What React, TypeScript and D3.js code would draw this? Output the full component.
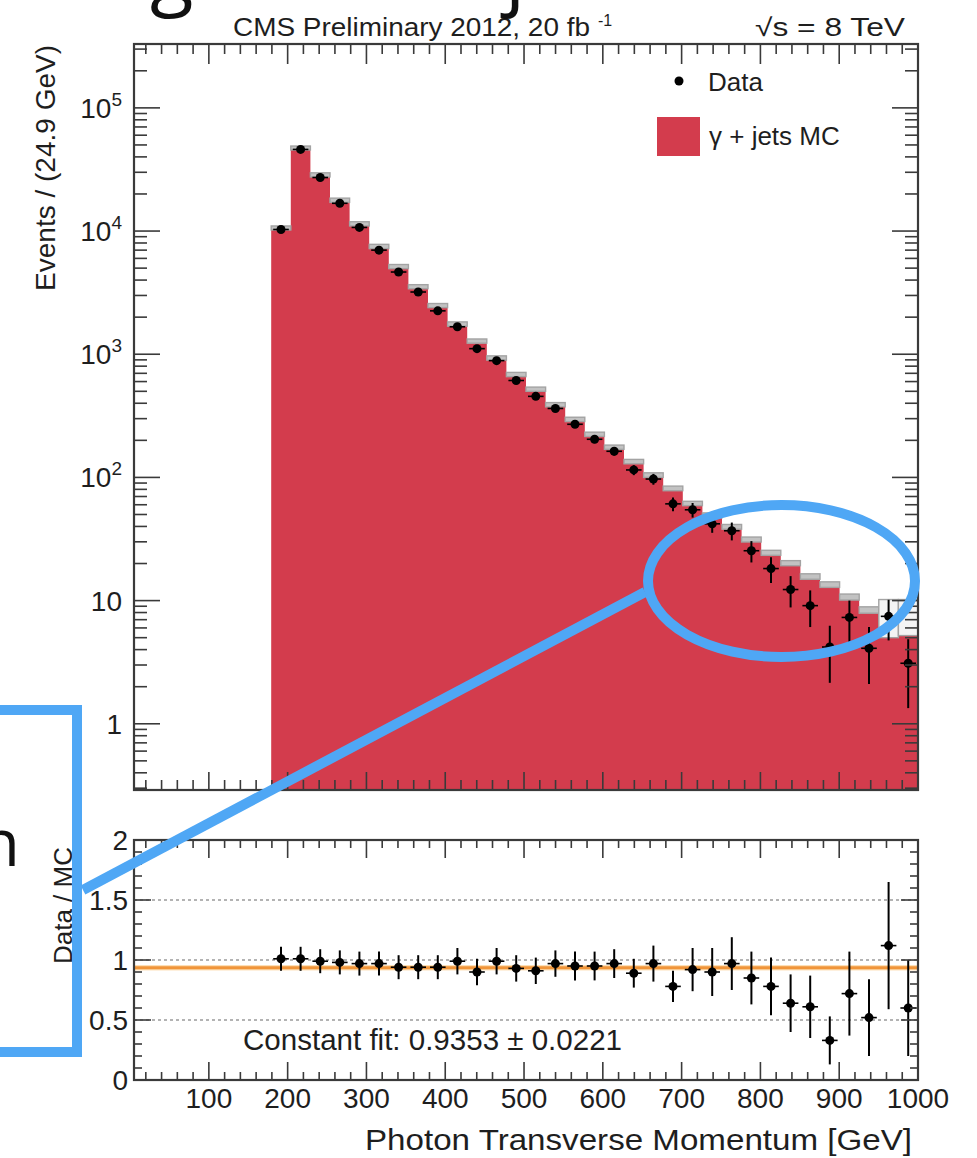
import React from "react";
import * as d3 from "d3";

// Photon pT binning: 40 bins of 24.875 GeV between 5 and 1000 GeV
const ptRange: [number, number] = [5, 1000];
const nBins = 40;
const firstFilledBin = 7;

// Bins 7..39 (179 GeV .. 1000 GeV)
const dataCounts = [10300, 46000, 27200, 16800, 10700, 7000, 4650, 3200, 2250, 1670, 1110, 887, 612, 455, 363, 270, 204, 163, 115, 97, 61, 54.6, 42, 36.9, 25.4, 18.2, 12.3, 9.1, 4.2, 7.3, 4.1, 7.45, 3.1];
const dataErrors = [101, 214, 165, 130, 103, 84, 68, 57, 47, 41, 33, 30, 25, 21, 19, 16.4, 14.3, 12.8, 10.7, 9.8, 7.8, 7.4, 6.5, 6.1, 5.0, 4.3, 3.5, 3.0, 2.05, 2.7, 2.0, 2.7, 1.76];
const mcCounts = [10200, 45500, 27500, 17100, 11000, 7200, 4950, 3400, 2390, 1690, 1230, 896, 658, 500, 374, 284, 215, 169, 129, 100, 78, 59, 47, 38, 29.9, 23.3, 19.2, 14.9, 12.8, 10.1, 7.9, 5.0, 5.2];
const mcBandHigh = [11000, 49000, 29700, 18500, 11900, 7800, 5350, 3670, 2580, 1830, 1330, 970, 712, 541, 405, 308, 233, 183, 140, 109, 85, 64, 51.5, 41.5, 32.8, 25.6, 21.1, 16.5, 14.2, 11.3, 8.9, 10.2, 10.2];
const ratioValues = [1.01, 1.01, 0.99, 0.98, 0.97, 0.97, 0.94, 0.94, 0.94, 0.99, 0.90, 0.99, 0.93, 0.91, 0.97, 0.95, 0.95, 0.97, 0.89, 0.97, 0.78, 0.92, 0.90, 0.97, 0.85, 0.78, 0.64, 0.61, 0.33, 0.72, 0.52, 1.12, 0.60];
const ratioErrors = [0.10, 0.10, 0.10, 0.10, 0.10, 0.10, 0.10, 0.10, 0.10, 0.11, 0.11, 0.11, 0.11, 0.11, 0.11, 0.12, 0.12, 0.12, 0.12, 0.15, 0.13, 0.18, 0.20, 0.22, 0.22, 0.24, 0.24, 0.26, 0.20, 0.35, 0.32, 0.53, 0.40];
const fitConstant = 0.9353;
const fitError = 0.0221;

const xMajorTicks = [100, 200, 300, 400, 500, 600, 700, 800, 900, 1000];
const decadeTicks = [1, 10, 100, 1000, 10000, 100000];
const decadeLabels: [string, string][] = [["1", ""], ["10", ""], ["10", "2"], ["10", "3"], ["10", "4"], ["10", "5"]];
const ratioMajorTicks = [0, 0.5, 1, 1.5, 2];
const ratioTickLabels = ["0", "0.5", "1", "1.5", "2"];

const FONT = "'Liberation Sans', Arial, Helvetica, sans-serif";
const RED = "#d33c4d";
const BLUE = "#4fa7f5";
const AXIS = "#3a3a3a";
const TEXT = "#1e1e1e";

export default function App() {
  const left = 134, right = 918;
  const top1 = 44, bot1 = 790;
  const top2 = 840, bot2 = 1080;

  const x = d3.scaleLinear().domain(ptRange).range([left, right]);
  const y1 = d3.scaleLog().domain([0.29, 3.3e5]).range([bot1, top1]);
  const y2 = d3.scaleLinear().domain([0, 2]).range([bot2, top2]);

  const binWidth = (ptRange[1] - ptRange[0]) / nBins;
  const bins = dataCounts.map((d, i) => {
    const lo = ptRange[0] + (firstFilledBin + i) * binWidth;
    return {
      lo, hi: lo + binWidth, c: lo + binWidth / 2,
      data: d, err: dataErrors[i], mc: mcCounts[i], band: mcBandHigh[i],
      ratio: ratioValues[i], rerr: ratioErrors[i],
    };
  });

  // stepped outline of the MC histogram
  const pts: [number, number][] = [[x(bins[0].lo), bot1]];
  bins.forEach((b) => { pts.push([x(b.lo), y1(b.mc)]); pts.push([x(b.hi), y1(b.mc)]); });
  pts.push([x(bins[bins.length - 1].hi), bot1]);
  const histPath = d3.line()(pts) + "Z";

  const xMinor = d3.range(20, 1000, 20).filter((v) => v % 100 !== 0);
  const [yMin, yMax] = y1.domain();
  const yMinor: number[] = [];
  [0.1, 1, 10, 100, 1000, 10000, 100000].forEach((dec) => {
    for (let m = 2; m <= 9; m++) {
      const v = m * dec;
      if (v > yMin && v < yMax) yMinor.push(v);
    }
  });
  const rMinor = d3.range(1, 20).map((v) => v / 10).filter((v) => Math.abs(v * 2 - Math.round(v * 2)) > 1e-6);

  return (
    <svg width={977} height={1158} style={{ position: "absolute", left: 0, top: 0, background: "#fff" }} fontFamily={FONT}>
      <defs>
        <clipPath id="clipTop"><rect x={left} y={top1} width={right - left} height={bot1 - top1} /></clipPath>
        <clipPath id="clipRatio"><rect x={left} y={top2} width={right - left} height={bot2 - top2} /></clipPath>
      </defs>
      <rect x={0} y={0} width={977} height={1158} fill="#fff" />

      {/* ---------- upper panel ---------- */}
      <g clipPath="url(#clipTop)">
        <path d={histPath} fill={RED} />
        {bins.map((b, i) => {
          const h = y1(b.mc) - y1(b.band);
          return (
            <rect key={"band" + i} x={x(b.lo)} width={x(b.hi) - x(b.lo)} y={y1(b.band)} height={h}
              fill={h < 15 ? "#c2c2c2" : "#f4f4f4"} stroke="#a3a3a3" strokeWidth={1.4} />
          );
        })}
        {bins.map((b, i) => (
          <g key={"pt" + i} stroke="#000">
            <line x1={x(b.c)} x2={x(b.c)} y1={y1(b.data + b.err)} y2={y1(Math.max(b.data - b.err, 0.01))} strokeWidth={2} />
            <line x1={x(b.lo) + 2} x2={x(b.hi) - 2} y1={y1(b.data)} y2={y1(b.data)} strokeWidth={1.6} />
            <circle cx={x(b.c)} cy={y1(b.data)} r={4.5} fill="#000" stroke="none" />
          </g>
        ))}
      </g>
      {/* ticks, upper panel */}
      <g stroke={AXIS} strokeWidth={1.6}>
        {xMajorTicks.map((t) => (
          <g key={"xm" + t}>
            <line x1={x(t)} x2={x(t)} y1={top1} y2={top1 + 20} />
            <line x1={x(t)} x2={x(t)} y1={bot1} y2={bot1 - 18} />
          </g>
        ))}
        {xMinor.map((t) => (
          <g key={"xn" + t}>
            <line x1={x(t)} x2={x(t)} y1={top1} y2={top1 + 10} />
            <line x1={x(t)} x2={x(t)} y1={bot1} y2={bot1 - 10} />
          </g>
        ))}
        {decadeTicks.map((t) => (
          <g key={"ym" + t}>
            <line x1={left} x2={left + 26} y1={y1(t)} y2={y1(t)} />
            <line x1={right} x2={right - 26} y1={y1(t)} y2={y1(t)} />
          </g>
        ))}
        {yMinor.map((t) => (
          <g key={"yn" + t}>
            <line x1={left} x2={left + 13} y1={y1(t)} y2={y1(t)} />
            <line x1={right} x2={right - 13} y1={y1(t)} y2={y1(t)} />
          </g>
        ))}
      </g>
      <rect x={left} y={top1} width={right - left} height={bot1 - top1} fill="none" stroke={AXIS} strokeWidth={2.2} />
      {decadeTicks.map((t, i) => (
        <text key={"yl" + t} x={122} y={y1(t) + 10} textAnchor="end" fontSize={28} fill={TEXT}>
          {decadeLabels[i][0]}
          {decadeLabels[i][1] && <tspan fontSize={19} dy={-12}>{decadeLabels[i][1]}</tspan>}
        </text>
      ))}
      <text transform="translate(55,45) rotate(-90)" textAnchor="end" fontSize={28} fill={TEXT}>Events / (24.9 GeV)</text>

      {/* header */}
      <text x={233} y={36} fontSize={25} textLength={357} lengthAdjust="spacingAndGlyphs" fill={TEXT}>CMS Preliminary 2012, 20 fb</text>
      <text x={598} y={26} fontSize={16} fill={TEXT}>-1</text>
      <text x={755} y={36} fontSize={25} textLength={150} lengthAdjust="spacingAndGlyphs" fill={TEXT}>√s = 8 TeV</text>

      {/* legend */}
      <circle cx={679} cy={81} r={4.5} fill="#000" />
      <text x={708} y={91} fontSize={26} fill={TEXT}>Data</text>
      <rect x={657} y={117} width={43} height={39} fill={RED} />
      <text x={709} y={145} fontSize={26} fill={TEXT}>γ + jets MC</text>

      {/* ---------- ratio panel ---------- */}
      <g stroke="#9a9a9a" strokeWidth={1.3} strokeDasharray="3,3">
        {[0.5, 1, 1.5].map((t) => <line key={"g" + t} x1={left} x2={right} y1={y2(t)} y2={y2(t)} />)}
      </g>
      <rect x={left} width={right - left} y={y2(fitConstant + fitError)} height={y2(fitConstant - fitError) - y2(fitConstant + fitError)} fill="#fcdcae" />
      <line x1={left} x2={right} y1={y2(fitConstant)} y2={y2(fitConstant)} stroke="#f0953a" strokeWidth={3} />
      <g clipPath="url(#clipRatio)">
        {bins.map((b, i) => (
          <g key={"r" + i} stroke="#000">
            <line x1={x(b.c)} x2={x(b.c)} y1={y2(b.ratio + b.rerr)} y2={y2(b.ratio - b.rerr)} strokeWidth={2} />
            <line x1={x(b.lo) + 2} x2={x(b.hi) - 2} y1={y2(b.ratio)} y2={y2(b.ratio)} strokeWidth={1.6} />
            <circle cx={x(b.c)} cy={y2(b.ratio)} r={4.5} fill="#000" stroke="none" />
          </g>
        ))}
      </g>
      <g stroke={AXIS} strokeWidth={1.6}>
        {xMajorTicks.map((t) => (
          <g key={"rxm" + t}>
            <line x1={x(t)} x2={x(t)} y1={top2} y2={top2 + 18} />
            <line x1={x(t)} x2={x(t)} y1={bot2} y2={bot2 - 18} />
          </g>
        ))}
        {xMinor.map((t) => (
          <g key={"rxn" + t}>
            <line x1={x(t)} x2={x(t)} y1={top2} y2={top2 + 8} />
            <line x1={x(t)} x2={x(t)} y1={bot2} y2={bot2 - 8} />
          </g>
        ))}
        {ratioMajorTicks.map((t) => (
          <g key={"rym" + t}>
            <line x1={left} x2={left + 17} y1={y2(t)} y2={y2(t)} />
            <line x1={right} x2={right - 17} y1={y2(t)} y2={y2(t)} />
          </g>
        ))}
        {rMinor.map((t) => (
          <g key={"ryn" + t}>
            <line x1={left} x2={left + 8} y1={y2(t)} y2={y2(t)} />
            <line x1={right} x2={right - 8} y1={y2(t)} y2={y2(t)} />
          </g>
        ))}
      </g>
      <rect x={left} y={top2} width={right - left} height={bot2 - top2} fill="none" stroke={AXIS} strokeWidth={2.2} />
      {ratioMajorTicks.map((t, i) => (
        <text key={"rl" + t} x={128} y={y2(t) + 10} textAnchor="end" fontSize={28} fill={TEXT}>{ratioTickLabels[i]}</text>
      ))}
      {xMajorTicks.map((t) => (
        <text key={"xl" + t} x={x(t)} y={1108} textAnchor="middle" fontSize={28} fill={TEXT}>{t}</text>
      ))}
      <text transform="translate(72,847) rotate(-90)" textAnchor="end" fontSize={26} fill={TEXT}>Data / MC</text>
      <text x={365} y={1150} fontSize={29} textLength={547} lengthAdjust="spacingAndGlyphs" fill={TEXT}>Photon Transverse Momentum [GeV]</text>
      <text x={243} y={1050} fontSize={29} textLength={379} lengthAdjust="spacingAndGlyphs" fill={TEXT}>Constant fit: {fitConstant.toFixed(4)} ± {fitError.toFixed(4)}</text>

      {/* slide annotations */}
      <ellipse cx={781.5} cy={581} rx={133.5} ry={76} fill="none" stroke={BLUE} strokeWidth={10} />
      <line x1={645} y1={592} x2={83} y2={890} stroke={BLUE} strokeWidth={10} />
      <rect x={-20} y={710} width={97} height={342} fill="none" stroke={BLUE} strokeWidth={10} />
      <text x={20} y={866} textAnchor="end" fontSize={66} fontFamily="'Open Sans', sans-serif" fill="#111">n</text>
      <text x={150} y={0} fontSize={80} fontFamily="'Open Sans', sans-serif" fill="#111">g</text>
      <text x={505} y={0} fontSize={80} fontFamily="'Open Sans', sans-serif" fill="#111">j</text>
    </svg>
  );
}
